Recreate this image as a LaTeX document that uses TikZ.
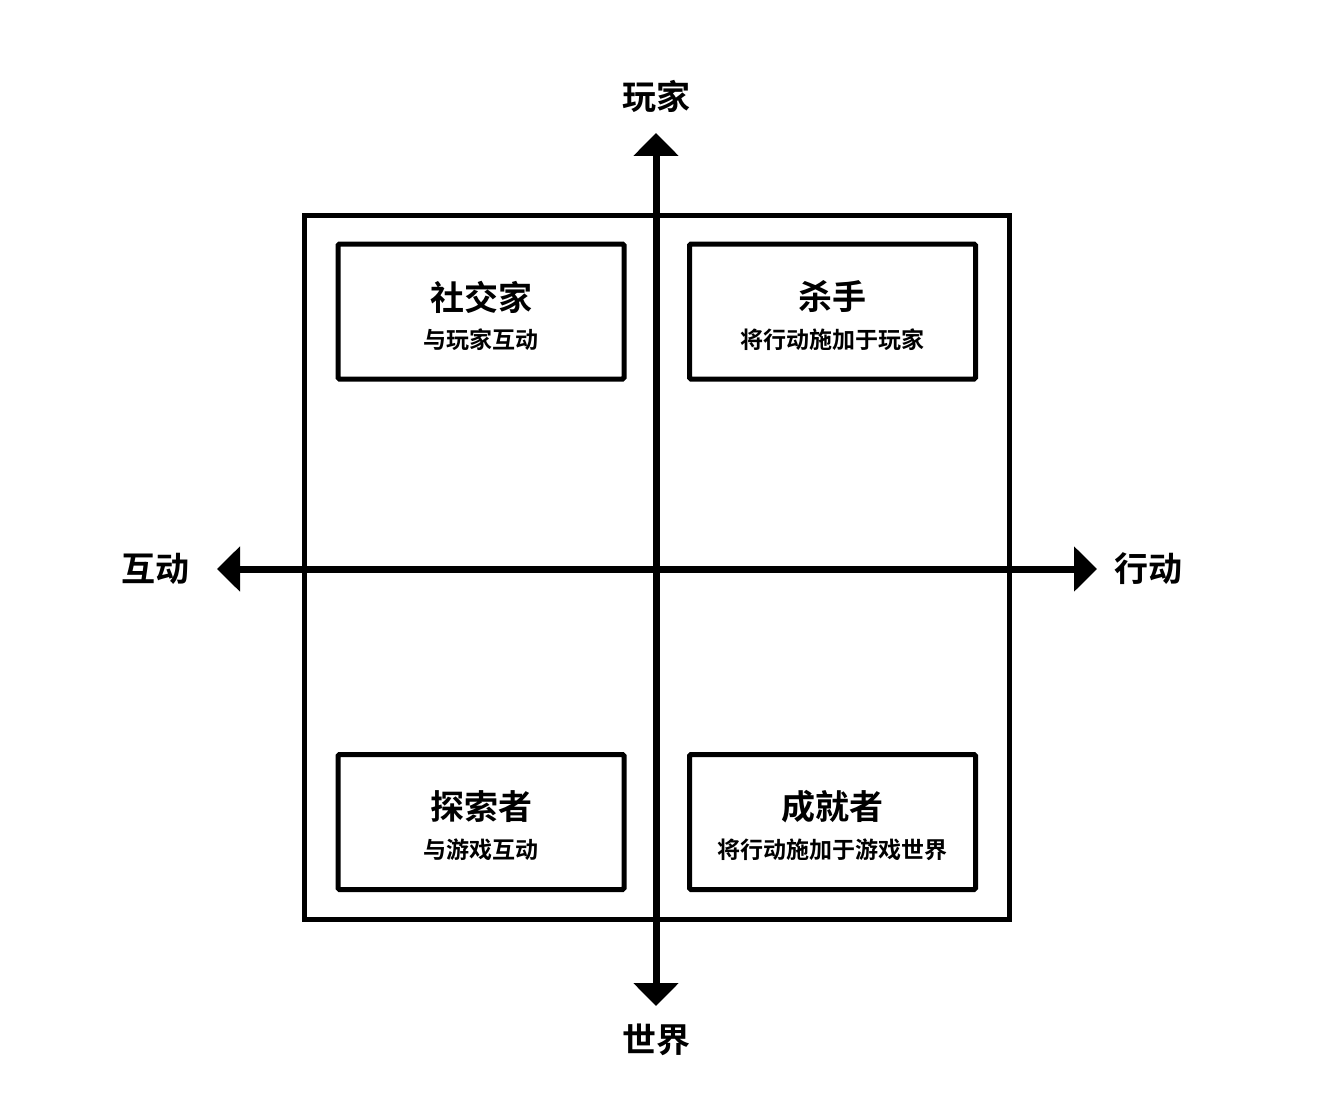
\documentclass[tikz,border=0pt]{standalone}
\usepackage{fontspec}
\setmainfont{Noto Sans CJK SC}[BoldFont={* Bold}]
\newfontfamily\cjk{Noto Sans CJK SC Bold}
\usetikzlibrary{arrows.meta}
\begin{document}
\begin{tikzpicture}[x=1pt,y=-1pt,
  quad/.style={draw,line width=5pt,rounded corners=1.5pt,minimum width=286pt,minimum height=135pt,inner sep=0pt,align=center},
  ttl/.style={font=\cjk\fontsize{34}{40}\selectfont},
  sub/.style={font=\cjk\fontsize{23}{28}\selectfont},
  axlab/.style={font=\cjk\fontsize{34}{40}\selectfont,inner sep=0pt},
  axis/.style={line width=7pt,{Triangle[length=23pt,width=44pt]}-{Triangle[length=23pt,width=44pt]}}]
\useasboundingbox (0,0) rectangle (1322,1102);
\fill[white] (0,0) rectangle (1322,1102);
\node[draw,line width=5pt,minimum width=705pt,minimum height=703pt,inner sep=0pt] (outer) at (656.5,567.5) {};
\node[quad] (soc) at (481,311.5) {};
\node[quad] (kil) at (832.5,311.5) {};
\node[quad] (exp) at (481,822) {};
\node[quad] (ach) at (832.5,822) {};
\node[ttl] (soct) at (481,297) {社交家};
\node[sub] (socs) at (481,340) {与玩家互动};
\node[ttl] (kilt) at (832.5,297) {杀手};
\node[sub] (kils) at (832.5,340) {将行动施加于玩家};
\node[ttl] (expt) at (481,807) {探索者};
\node[sub] (exps) at (481,850) {与游戏互动};
\node[ttl] (acht) at (832.5,807) {成就者};
\node[sub] (achs) at (832.5,850) {将行动施加于游戏世界};
\coordinate (top) at (656,133);
\coordinate (bot) at (656,1006);
\coordinate (lft) at (217,569);
\coordinate (rgt) at (1097,569);
\draw[axis] (bot) -- (top);
\draw[axis] (lft) -- (rgt);
\node[axlab] (pl) at (656,96) {玩家};
\node[axlab] (wo) at (656,1040) {世界};
\node[axlab] (in) at (155,569) {互动};
\node[axlab] (ac) at (1148,569) {行动};
\end{tikzpicture}
\end{document}
